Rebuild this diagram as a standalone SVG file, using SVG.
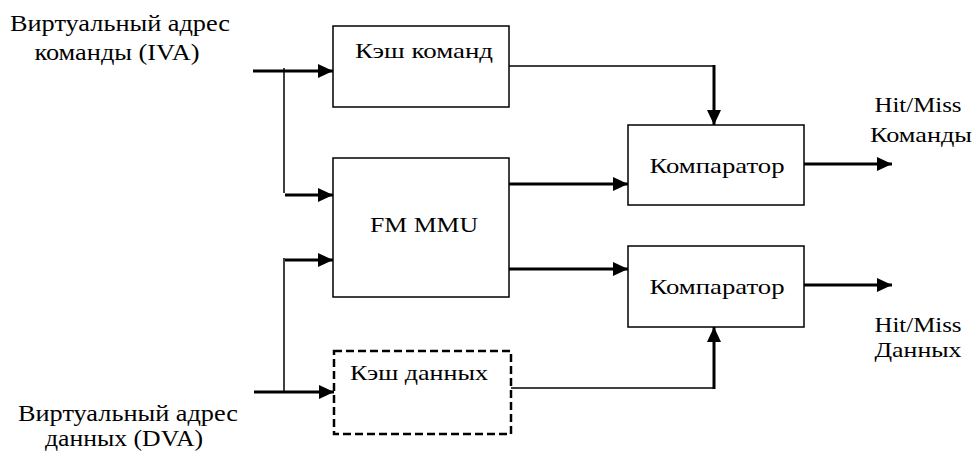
<svg xmlns="http://www.w3.org/2000/svg" width="973" height="452" viewBox="0 0 973 452">
<defs>
<marker id="ah" markerUnits="userSpaceOnUse" markerWidth="16" markerHeight="14" refX="15" refY="7" orient="auto">
<path d="M0,0 L15,7 L0,14 Z" fill="#000"/>
</marker>
<style>
.box{fill:#fff;stroke:#000;stroke-width:1.5}
.dash{fill:#fff;stroke:#000;stroke-width:2.5;stroke-dasharray:8,4}
text{font-family:'Liberation Serif','DejaVu Serif',serif;font-size:22px;fill:#000;text-anchor:middle}
.lbl{font-size:24px}
.thick{fill:none;stroke:#000;stroke-width:3}
.thin{fill:none;stroke:#000;stroke-width:1.5}
</style>
</defs>
<rect width="973" height="452" fill="#fff"/>
<g id="connectors">
<path class="thick" d="M253,71 H333" marker-end="url(#ah)"/>
<path class="thin" d="M284,68 V193"/>
<path class="thick" d="M285,195 H333" marker-end="url(#ah)"/>
<path class="thick" d="M285,260 H333" marker-end="url(#ah)"/>
<path class="thin" d="M284,258 V392"/>
<path class="thick" d="M254,392 H334" marker-end="url(#ah)"/>
<path class="thin" d="M509,66 H714"/>
<path class="thick" d="M714,65 V125" marker-end="url(#ah)"/>
<path class="thick" d="M509,184 H628" marker-end="url(#ah)"/>
<path class="thick" d="M509,269 H628" marker-end="url(#ah)"/>
<path class="thin" d="M511,388 H714"/>
<path class="thick" d="M714,389 V327" marker-end="url(#ah)"/>
<path class="thick" d="M804,164 H892" marker-end="url(#ah)"/>
<path class="thick" d="M804,285 H892" marker-end="url(#ah)"/>
</g>
<g id="icache">
<rect class="box" x="333" y="26" width="176" height="81"/>
<text x="424" y="58" textLength="138" lengthAdjust="spacingAndGlyphs">Кэш команд</text>
</g>
<g id="mmu">
<rect class="box" x="333" y="158" width="176" height="139"/>
<text x="424" y="232" textLength="108" lengthAdjust="spacingAndGlyphs">FM MMU</text>
</g>
<g id="dcache">
<rect class="dash" x="334" y="351" width="177" height="83"/>
<text x="419" y="380" textLength="138" lengthAdjust="spacingAndGlyphs">Кэш данных</text>
</g>
<g id="comp1">
<rect class="box" x="628" y="125" width="176" height="80"/>
<text x="717" y="173" textLength="135" lengthAdjust="spacingAndGlyphs">Компаратор</text>
</g>
<g id="comp2">
<rect class="box" x="628" y="246" width="176" height="81"/>
<text x="717" y="294" textLength="135" lengthAdjust="spacingAndGlyphs">Компаратор</text>
</g>
<g id="iva">
<text class="lbl" x="120" y="31" textLength="220" lengthAdjust="spacingAndGlyphs">Виртуальный адрес</text>
<text class="lbl" x="117" y="60" textLength="165" lengthAdjust="spacingAndGlyphs">команды (IVA)</text>
</g>
<g id="dva">
<text class="lbl" x="128" y="421" textLength="220" lengthAdjust="spacingAndGlyphs">Виртуальный адрес</text>
<text class="lbl" x="124" y="446" textLength="158" lengthAdjust="spacingAndGlyphs">данных (DVA)</text>
</g>
<g id="out1">
<text x="918" y="112" textLength="87" lengthAdjust="spacingAndGlyphs">Hit/Miss</text>
<text x="921" y="142" textLength="102" lengthAdjust="spacingAndGlyphs">Команды</text>
</g>
<g id="out2">
<text x="918" y="332" textLength="87" lengthAdjust="spacingAndGlyphs">Hit/Miss</text>
<text x="918" y="357" textLength="87" lengthAdjust="spacingAndGlyphs">Данных</text>
</g>
</svg>
